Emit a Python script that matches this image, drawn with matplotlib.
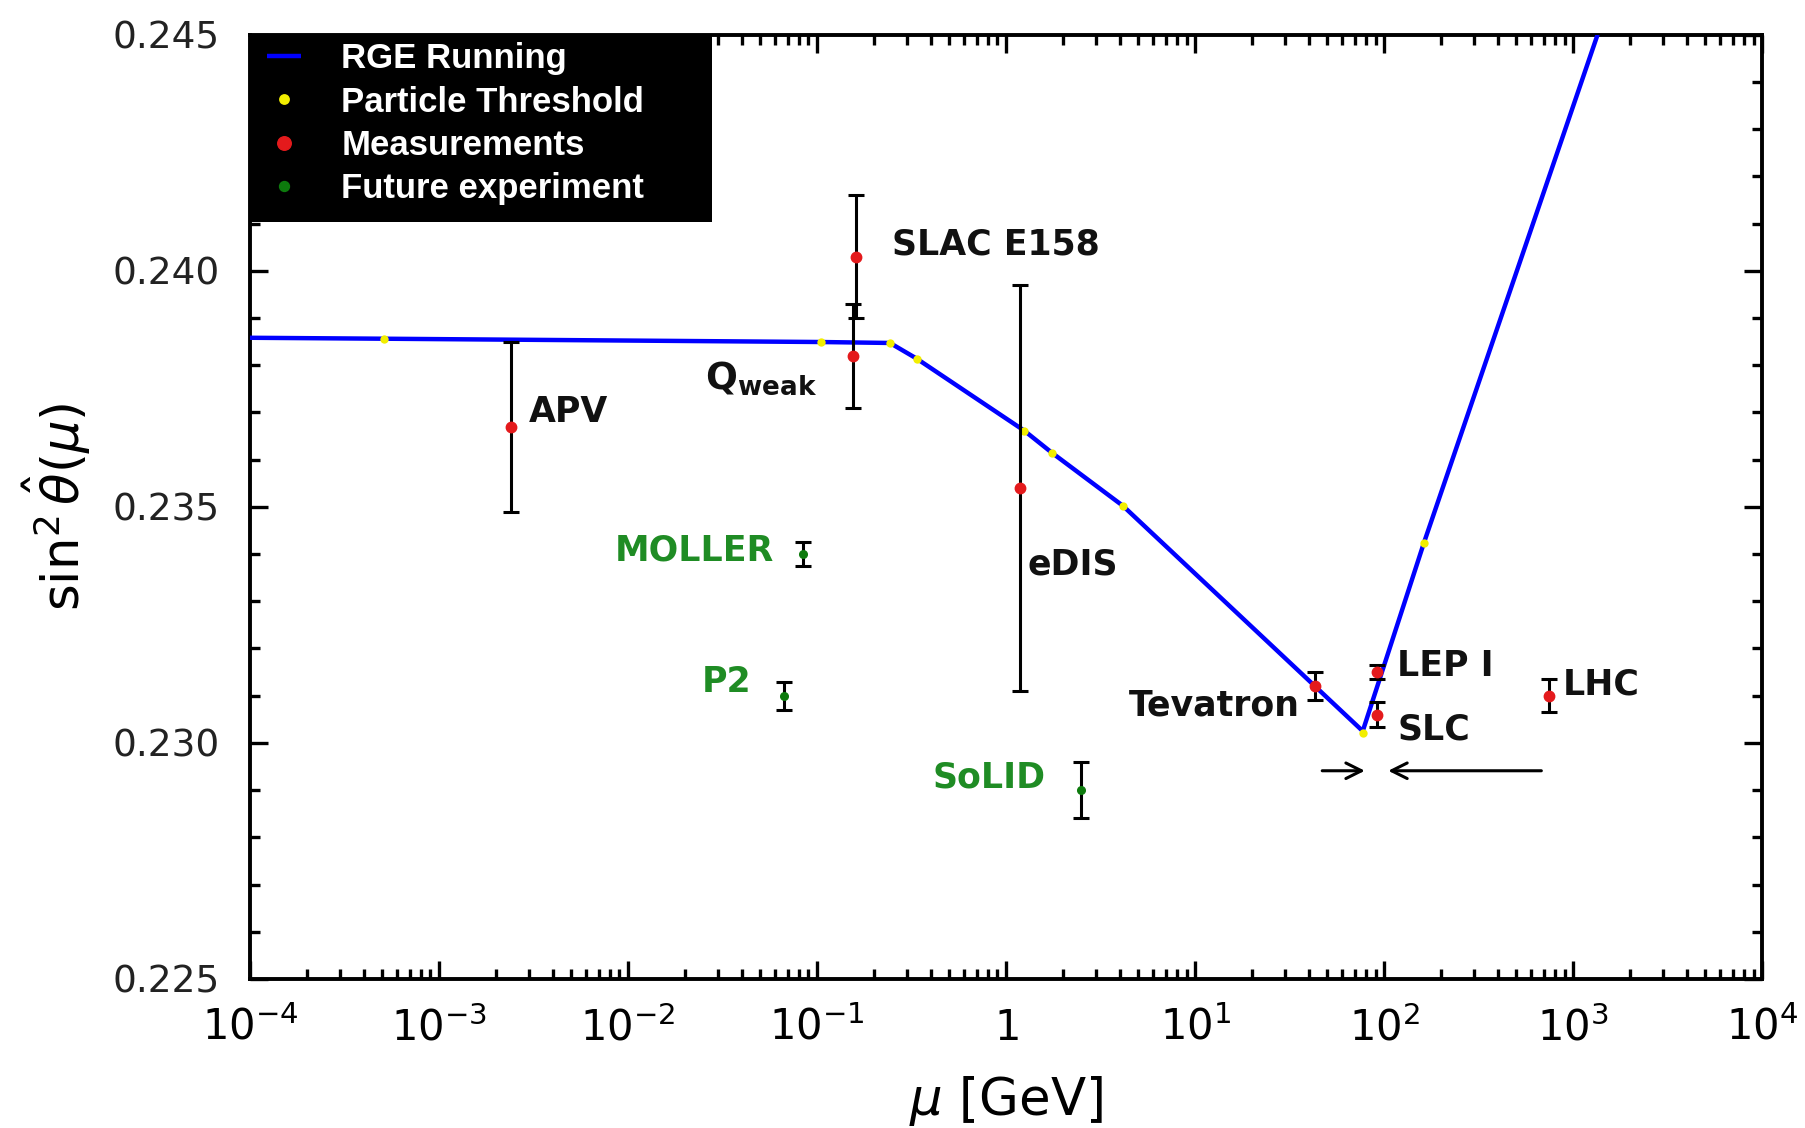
import numpy as np
import matplotlib
matplotlib.use('Agg')
import matplotlib.pyplot as plt
from matplotlib.patches import Rectangle
from matplotlib.ticker import FixedLocator, FixedFormatter, LogLocator, NullFormatter, MultipleLocator

plt.rcParams['mathtext.fontset'] = 'dejavusans'
plt.rcParams['font.family'] = ['DejaVu Sans']

# ---------------- data ----------------
# RGE running curve (vertices)
rge_mu = [1e-4, 5.1e-4, 0.105, 0.243, 0.336, 1.25, 1.74, 4.15, 77.0, 162.0, 1345.0]
rge_s2w = [0.23858, 0.23856, 0.23849, 0.23847, 0.23814, 0.23661, 0.23615, 0.23502, 0.23025, 0.23423, 0.2450]

# particle thresholds
thr_mu = [5.1e-4, 0.105, 0.243, 0.336, 1.25, 1.74, 4.15, 77.0, 162.0]
thr_s2w = [0.23856, 0.23849, 0.23847, 0.23814, 0.23661, 0.23615, 0.23502, 0.23022, 0.23423]

# measurements
meas_names = ['APV', r'$\mathbf{Q_{weak}}$', 'SLAC E158', 'eDIS', 'Tevatron', 'LEP I', 'SLC', 'LHC']
meas_mu = [0.0024, 0.155, 0.160, 1.18, 43.0, 91.2, 91.2, 740.0]
meas_s2w = [0.2367, 0.2382, 0.2403, 0.2354, 0.2312, 0.2315, 0.2306, 0.2310]
meas_err = [0.0018, 0.0011, 0.0013, 0.0043, 0.0003, 0.00015, 0.00027, 0.00035]

# future experiments
fut_names = ['MOLLER', 'P2', 'SoLID']
fut_mu = [0.084, 0.067, 2.48]
fut_s2w = [0.2340, 0.2310, 0.2290]
fut_err = [0.00026, 0.0003, 0.0006]

# label anchor positions (x, y, horizontal alignment)
meas_lab_x = [0.0030, 0.0255, 0.25, 1.30, 36.0, 117.0, 117.0, 880.0]
meas_lab_y = [0.2370, 0.23773, 0.24056, 0.23378, 0.2308, 0.23163, 0.23029, 0.23124]
meas_lab_ha = ['left', 'left', 'left', 'left', 'right', 'left', 'left', 'left']
fut_lab_x = [0.0593, 0.0448, 1.626]
fut_lab_y = [0.23407, 0.23129, 0.22927]

# arrows below the Z pole
arrow_y = 0.22941
arrow_right = (47.0, 79.0)
arrow_left = (678.0, 105.0)

x_ticks = [1e-4, 1e-3, 1e-2, 1e-1, 1, 1e1, 1e2, 1e3, 1e4]
x_ticklabels = [r'$10^{-4}$', r'$10^{-3}$', r'$10^{-2}$', r'$10^{-1}$', r'$1$',
                r'$10^{1}$', r'$10^{2}$', r'$10^{3}$', r'$10^{4}$']
y_ticks = [0.225, 0.230, 0.235, 0.240, 0.245]
y_ticklabels = ['0.225', '0.230', '0.235', '0.240', '0.245']

# ---------------- figure ----------------
fig = plt.figure(figsize=(18.06, 11.28), dpi=100)
fig.patch.set_facecolor('white')
ax = fig.add_axes([0.1384, 0.1321, 0.8374, 0.8372])

ax.set_xscale('log')
ax.set_xlim(1e-4, 1e4)
ax.set_ylim(0.225, 0.245)

line, = ax.plot(rge_mu, rge_s2w, color='#0000ff', lw=3.2, solid_capstyle='butt',
                solid_joinstyle='miter', zorder=3, label='RGE Running')
thr, = ax.plot(thr_mu, thr_s2w, linestyle='none', marker='o', ms=6, mfc='#f2ee00',
               mec='none', zorder=4, label='Particle Threshold')

ax.errorbar(meas_mu, meas_s2w, yerr=meas_err, fmt='none', ecolor='black', elinewidth=2.2,
            capsize=6, capthick=2.2, zorder=5)
meas, = ax.plot(meas_mu, meas_s2w, linestyle='none', marker='o', ms=7.5, mfc='#e41a1c',
                mec='#e41a1c', zorder=6, label='Measurements')

ax.errorbar(fut_mu, fut_s2w, yerr=fut_err, fmt='none', ecolor='black', elinewidth=2.2,
            capsize=6, capthick=2.2, zorder=5)
fut, = ax.plot(fut_mu, fut_s2w, linestyle='none', marker='o', ms=5.5, mfc='#0d7a0d',
               mec='#0d7a0d', zorder=6, label='Future experiment')

for name, x, y, ha in zip(meas_names, meas_lab_x, meas_lab_y, meas_lab_ha):
    fs = 27 if 'weak' in name else 25
    ax.text(x, y, name, ha=ha, va='center', fontsize=fs, fontweight='bold', color='#111111')
for name, x, y in zip(fut_names, fut_lab_x, fut_lab_y):
    ax.text(x, y, name, ha='right', va='center', fontsize=25, fontweight='bold', color='#1f8c24')

ax.annotate('', xy=(arrow_right[1], arrow_y), xytext=(arrow_right[0], arrow_y),
            arrowprops=dict(arrowstyle='->', lw=2.2, color='black', mutation_scale=28,
                            shrinkA=0, shrinkB=0))
ax.annotate('', xy=(arrow_left[1], arrow_y), xytext=(arrow_left[0], arrow_y),
            arrowprops=dict(arrowstyle='->', lw=2.2, color='black', mutation_scale=28,
                            shrinkA=0, shrinkB=0))

# ticks
ax.xaxis.set_major_locator(FixedLocator(x_ticks))
ax.xaxis.set_major_formatter(FixedFormatter(x_ticklabels))
ax.xaxis.set_minor_locator(LogLocator(base=10, subs=np.arange(2, 10), numticks=100))
ax.xaxis.set_minor_formatter(NullFormatter())
ax.yaxis.set_major_locator(FixedLocator(y_ticks))
ax.yaxis.set_major_formatter(FixedFormatter(y_ticklabels))
ax.yaxis.set_minor_locator(MultipleLocator(0.001))

ax.tick_params(which='both', direction='in', top=True, right=True, color='black')
ax.tick_params(which='major', length=13, width=2.4)
ax.tick_params(which='minor', length=7, width=2.4)
ax.tick_params(axis='x', which='major', labelsize=30, pad=20)
ax.tick_params(axis='y', which='major', labelsize=27, pad=22)
for lab in ax.get_yticklabels():
    lab.set_color('#222222')
for sp in ax.spines.values():
    sp.set_linewidth(2.8)

ax.set_xlabel(r'$\mu$ [GeV]', fontsize=37, labelpad=18)
ax.set_ylabel(r'$\sin^2\hat{\theta}(\mu)$', fontsize=37, labelpad=14)

# legend on a black box in the upper-left corner
ax.add_patch(Rectangle((0, 0.8012), 0.3054, 0.1988, transform=ax.transAxes,
                       facecolor='black', edgecolor='none', zorder=9))
leg = ax.legend(handles=[line, thr, meas, fut], loc='upper left',
                bbox_to_anchor=(0.011, 0.992), borderaxespad=0, borderpad=0,
                frameon=False, labelcolor='white', handlelength=1.0, handletextpad=1.15,
                labelspacing=0.3, markerscale=1.3,
                prop={'family': 'Liberation Sans', 'weight': 'bold', 'size': 25})
leg.set_zorder(10)

fig.savefig('out.png', dpi=100, facecolor='white')
